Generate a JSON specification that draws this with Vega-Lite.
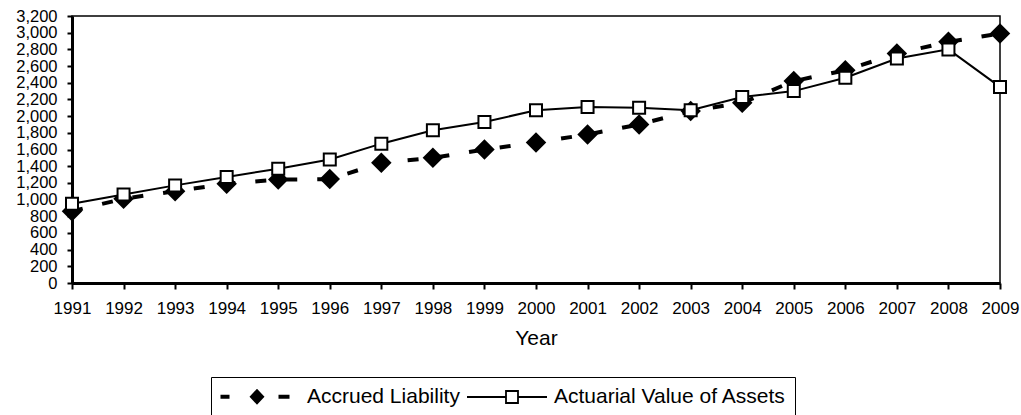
{
  "$schema": "https://vega.github.io/schema/vega-lite/v6.json",
  "width": 928,
  "height": 267,
  "autosize": {"type": "none"},
  "padding": {"left": 72, "top": 16, "right": 21, "bottom": 132},
  "background": "white",
  "config": {
    "view": {"stroke": "black", "strokeWidth": 1.5},
    "axis": {
      "labelFont": "Liberation Sans",
      "labelFontSize": 17,
      "labelColor": "black",
      "titleFont": "Liberation Sans",
      "titleFontSize": 21,
      "titleFontWeight": "normal",
      "titleColor": "black",
      "domainColor": "black",
      "domainWidth": 3,
      "tickColor": "black",
      "tickWidth": 2,
      "grid": false
    }
  },
  "data": {
    "values": [
      {"year": 1991, "series": "Accrued Liability", "value": 860},
      {"year": 1992, "series": "Accrued Liability", "value": 1010},
      {"year": 1993, "series": "Accrued Liability", "value": 1100},
      {"year": 1994, "series": "Accrued Liability", "value": 1190},
      {"year": 1995, "series": "Accrued Liability", "value": 1240},
      {"year": 1996, "series": "Accrued Liability", "value": 1245},
      {"year": 1997, "series": "Accrued Liability", "value": 1440},
      {"year": 1998, "series": "Accrued Liability", "value": 1500},
      {"year": 1999, "series": "Accrued Liability", "value": 1600},
      {"year": 2000, "series": "Accrued Liability", "value": 1685},
      {"year": 2001, "series": "Accrued Liability", "value": 1780},
      {"year": 2002, "series": "Accrued Liability", "value": 1900},
      {"year": 2003, "series": "Accrued Liability", "value": 2060},
      {"year": 2004, "series": "Accrued Liability", "value": 2160},
      {"year": 2005, "series": "Accrued Liability", "value": 2420},
      {"year": 2006, "series": "Accrued Liability", "value": 2550},
      {"year": 2007, "series": "Accrued Liability", "value": 2750},
      {"year": 2008, "series": "Accrued Liability", "value": 2890},
      {"year": 2009, "series": "Accrued Liability", "value": 2990},
      {"year": 1991, "series": "Actuarial Value of Assets", "value": 950},
      {"year": 1992, "series": "Actuarial Value of Assets", "value": 1060},
      {"year": 1993, "series": "Actuarial Value of Assets", "value": 1170},
      {"year": 1994, "series": "Actuarial Value of Assets", "value": 1270},
      {"year": 1995, "series": "Actuarial Value of Assets", "value": 1370},
      {"year": 1996, "series": "Actuarial Value of Assets", "value": 1480},
      {"year": 1997, "series": "Actuarial Value of Assets", "value": 1670},
      {"year": 1998, "series": "Actuarial Value of Assets", "value": 1830},
      {"year": 1999, "series": "Actuarial Value of Assets", "value": 1930},
      {"year": 2000, "series": "Actuarial Value of Assets", "value": 2070},
      {"year": 2001, "series": "Actuarial Value of Assets", "value": 2110},
      {"year": 2002, "series": "Actuarial Value of Assets", "value": 2100},
      {"year": 2003, "series": "Actuarial Value of Assets", "value": 2070},
      {"year": 2004, "series": "Actuarial Value of Assets", "value": 2230},
      {"year": 2005, "series": "Actuarial Value of Assets", "value": 2300},
      {"year": 2006, "series": "Actuarial Value of Assets", "value": 2460},
      {"year": 2007, "series": "Actuarial Value of Assets", "value": 2690},
      {"year": 2008, "series": "Actuarial Value of Assets", "value": 2800},
      {"year": 2009, "series": "Actuarial Value of Assets", "value": 2350}
    ]
  },
  "encoding": {
    "x": {
      "field": "year",
      "type": "quantitative",
      "scale": {"domain": [1991, 2009], "nice": false, "zero": false},
      "axis": {
        "values": [1991,1992,1993,1994,1995,1996,1997,1998,1999,2000,2001,2002,2003,2004,2005,2006,2007,2008,2009],
        "format": "d",
        "title": "Year",
        "tickSize": 6,
        "labelPadding": 11,
        "labelFlush": false,
        "labelOverlap": false,
        "titlePadding": 11
      }
    },
    "y": {
      "field": "value",
      "type": "quantitative",
      "scale": {"domain": [0, 3200], "nice": false},
      "axis": {
        "values": [0,200,400,600,800,1000,1200,1400,1600,1800,2000,2200,2400,2600,2800,3000,3200],
        "format": ",.0f",
        "title": null,
        "tickSize": 5,
        "labelPadding": 10,
        "labelFontSize": 16.5,
        "labelOverlap": false
      }
    }
  },
  "layer": [
    {
      "transform": [{"filter": "datum.series === 'Accrued Liability'"}],
      "mark": {"type": "line", "color": "black", "strokeWidth": 4, "strokeDash": [11, 20], "strokeCap": "butt"}
    },
    {
      "transform": [{"filter": "datum.series === 'Accrued Liability'"}],
      "mark": {"type": "point", "shape": "diamond", "filled": true, "color": "black", "size": 420, "opacity": 1, "strokeWidth": 0}
    },
    {
      "transform": [{"filter": "datum.series === 'Actuarial Value of Assets'"}],
      "mark": {"type": "line", "color": "black", "strokeWidth": 2}
    },
    {
      "transform": [{"filter": "datum.series === 'Actuarial Value of Assets'"}],
      "mark": {"type": "point", "shape": "square", "filled": true, "fill": "white", "stroke": "black", "strokeWidth": 2, "size": 144, "opacity": 1}
    },
    {
      "transform": [{"filter": "datum.year < 0"}],
      "mark": {"type": "point", "filled": true, "opacity": 1},
      "encoding": {
        "shape": {
          "field": "series",
          "type": "nominal",
          "scale": {
            "domain": ["Accrued Liability", "Actuarial Value of Assets"],
            "range": [
              "M-1,-0.2L-0.1,-0.2L-0.1,0.2L-1,0.2Z M4.8,-0.2L5.9,-0.2L5.9,0.2L4.8,0.2Z M2.65,-0.8L3.4,0L2.65,0.8L1.9,0Z",
              "M-1,0L2.9,0M4.1,0L7,0M2.9,-0.6L4.1,-0.6L4.1,0.6L2.9,0.6Z"
            ]
          },
          "legend": {
            "orient": "none",
            "legendX": 139,
            "legendY": 361,
            "direction": "horizontal",
            "title": null,
            "padding": 9,
            "strokeColor": "black",
            "symbolSize": 400,
            "labelOffset": 66,
            "columnPadding": 3,
            "labelLimit": 0,
            "labelFont": "Liberation Sans",
            "labelFontSize": 21,
            "labelColor": "black",
            "encode": {"legend": {"strokeWidth": {"value": 2}}}
          }
        },
        "fill": {
          "field": "series",
          "type": "nominal",
          "scale": {"domain": ["Accrued Liability", "Actuarial Value of Assets"], "range": ["black", "white"]}
        },
        "stroke": {
          "field": "series",
          "type": "nominal",
          "scale": {"domain": ["Accrued Liability", "Actuarial Value of Assets"], "range": ["black", "black"]}
        },
        "strokeWidth": {
          "field": "series",
          "type": "ordinal",
          "scale": {"domain": ["Accrued Liability", "Actuarial Value of Assets"], "range": [0, 1.8]}
        }
      }
    }
  ]
}
